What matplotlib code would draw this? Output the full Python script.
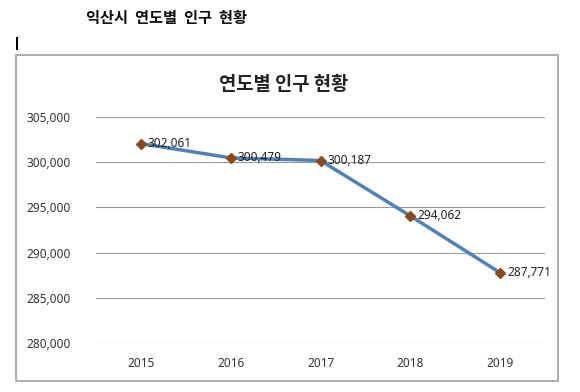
import matplotlib
matplotlib.use("Agg")
import matplotlib.pyplot as plt
from matplotlib.patches import Rectangle
from matplotlib.ticker import FuncFormatter

plt.rcParams['font.family'] = ['Noto Sans CJK KR', 'DejaVu Sans']

years = ['2015', '2016', '2017', '2018', '2019']
population = [302061, 300479, 300187, 294062, 287771]
yticks = [280000, 285000, 290000, 295000, 300000, 305000]

W, H = 580, 392
fig = plt.figure(figsize=(W / 100, H / 100), dpi=100)
fig.patch.set_facecolor('white')

# chart frame
fig.patches.append(Rectangle((16 / W, 1 - 381 / H), (558 - 16) / W, (381 - 55) / H,
                             transform=fig.transFigure, fill=False,
                             edgecolor='#a0a0a0', linewidth=1.2))
# cursor bar
fig.patches.append(Rectangle((16 / W, 1 - 50 / H), 2 / W, 13 / H,
                             transform=fig.transFigure, facecolor='black',
                             edgecolor='none'))

fig.text(166 / W, 1 - 18 / H, '익산시  연도별  인구  현황', ha='center', va='center',
         fontsize=11, fontweight='bold', color='#111111')
fig.text(284 / W, 1 - 84 / H, '연도별 인구 현황', ha='center', va='center',
         fontsize=13.5, fontweight='bold', color='#222222')

ax = fig.add_axes([96 / W, 1 - 343 / H, (545 - 96) / W, (343 - 117) / H])
x = list(range(len(years)))
ax.plot(x, population, color='#4f81bd', linewidth=2.5, zorder=2)
ax.plot(x, population, linestyle='none', marker='D', markersize=5.5,
        color='#8c4a1c', zorder=3)
for xi, v in zip(x, population):
    ax.annotate(f'{v:,}', (xi, v), xytext=(5, 0), textcoords='offset points',
                ha='left', va='center', fontsize=8.5, color='#222222',
                family=['Noto Sans', 'DejaVu Sans'])

ax.set_xlim(-0.5, len(years) - 0.5)
ax.set_ylim(280000, 305000)
ax.set_yticks(yticks)
ax.yaxis.set_major_formatter(FuncFormatter(lambda v, p: f'{int(v):,}'))
ax.set_xticks(x)
ax.set_xticklabels(years)
ax.grid(axis='y', color='#999999', linewidth=0.8)
ax.set_axisbelow(True)
for s in ax.spines.values():
    s.set_visible(False)
ax.tick_params(axis='both', length=0, labelsize=8.5, colors='#333333')
ax.tick_params(axis='y', pad=18)
ax.tick_params(axis='x', pad=10)
for lbl in ax.get_xticklabels() + ax.get_yticklabels():
    lbl.set_family(['Noto Sans', 'DejaVu Sans'])
for lbl in ax.get_xticklabels():
    lbl.set_fontweight('bold')

fig.savefig('out.png', dpi=100)
